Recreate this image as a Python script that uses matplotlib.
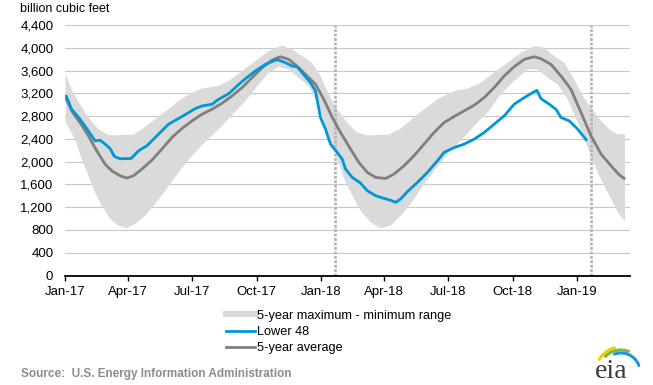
import numpy as np
import pandas as pd
import matplotlib
matplotlib.use("Agg")
import matplotlib.pyplot as plt
import matplotlib.dates as mdates
from matplotlib.lines import Line2D
from matplotlib.ticker import FuncFormatter

plt.rcParams['font.family'] = ['Liberation Sans', 'DejaVu Sans']

start_date = '2017-01-01'

# Lower 48 working gas in storage (billion cubic feet); x = days since start_date
blue_days = [1, 9.5, 21.4, 33.3, 42.8, 50, 57.1, 64.2, 70.4, 78.5, 94.2, 104.7, 116.6, 128.5, 147.5,
             166.6, 185.6, 195.1, 209.4, 218.9, 233.2, 245.1, 257, 271.2, 285.5, 299.8, 304.5, 314.1,
             323.6, 330.7, 337.9, 349.8, 356.9, 364, 371.2, 378.3, 387.9, 395, 399.7, 409.3, 421.1,
             430.7, 442.6, 454.4, 464, 471.1, 478.2, 487.8, 502.1, 516.3, 530.6, 540.1, 554.4, 568.6,
             582.9, 597.2, 611.4, 625.7, 640, 654.3, 666.2, 672.4, 678.1, 690, 699.5, 706.7, 718.5,
             730.5, 743.8]
blue_vals = [3171, 2920, 2745, 2540, 2365, 2377, 2307, 2231, 2091, 2050, 2056, 2190, 2278, 2424, 2657,
             2792, 2932, 2978, 3008, 3095, 3194, 3329, 3457, 3592, 3708, 3784, 3784, 3738,
             3679, 3668, 3562, 3387, 3241, 2774, 2570, 2307, 2161, 2044, 1869, 1723, 1624,
             1489, 1402, 1355, 1320, 1285, 1343, 1472, 1635, 1810, 2015, 2161, 2248, 2307,
             2394, 2511, 2657, 2803, 3008, 3124, 3212, 3253, 3107, 3008, 2920, 2774, 2716,
             2570, 2365]

# 5-year average
avg_days = [1, 9.5, 21.4, 33.3, 45.2, 57.1, 66.6, 78.5, 88, 97.5, 109.5, 123.8, 138, 152.3, 166.6,
            180.9, 195.1, 209.4, 223.7, 238, 252.3, 266.5, 280.8, 295.1, 306.9, 318.8, 333, 345,
            356.9, 368.7, 380.7, 392.6, 406.9, 418.7, 430.7, 442.6, 456.8, 468.7, 483, 497.2,
            511.5, 525.8, 540.1, 554.4, 568.6, 582.9, 597.2, 611.4, 625.7, 640, 654.3, 668.5,
            678.1, 692.4, 706.7, 720.9, 735.2, 749.5, 763.8, 778, 789.9, 798]
avg_vals = [3124, 2891, 2686, 2453, 2190, 1956, 1840, 1752, 1711, 1752, 1869, 2026, 2219, 2424, 2581,
            2716, 2832, 2920, 3025, 3154, 3300, 3475, 3650, 3784, 3843, 3796, 3650, 3504,
            3358, 3095, 2780, 2511, 2219, 1986, 1810, 1723, 1705, 1781, 1927, 2102,
            2307, 2511, 2686, 2792, 2891, 2990, 3124, 3300, 3504, 3668, 3796, 3843,
            3808, 3708, 3504, 3270, 2862, 2453, 2132, 1927, 1764, 1694]

# 5-year maximum
max_days = [1, 9.5, 21.4, 33.3, 47.5, 61.8, 78.5, 97.5, 109.5, 128.5, 147.5, 161.7, 180.9, 195.1,
            218.9, 233.1, 252.3, 271.2, 290.2, 309.4, 323.6, 337.9, 352.2, 364, 375.9, 387.9,
            402.2, 416.4, 430.7, 445, 461.6, 478.2, 497.2, 511.5, 530.6, 554.4, 573.4, 592.5,
            611.4, 630.6, 649.6, 668.5, 682.8, 697.1, 711.4, 725.6, 737.6, 749.5, 763.8, 778,
            787.6, 798]
max_vals = [3533, 3270, 3008, 2774, 2570, 2465, 2465, 2476, 2570, 2745, 2920, 3066, 3212, 3282,
            3329, 3416, 3592, 3767, 3942, 4041, 3971, 3854, 3738, 3504, 3183, 2920,
            2686, 2511, 2465, 2465, 2476, 2581, 2774, 2920, 3095, 3241, 3282, 3387,
            3562, 3738, 3913, 4030, 4000, 3854, 3738, 3446, 3154, 2949, 2716, 2540,
            2482, 2482]

# 5-year minimum
min_days = [1, 14.3, 23.8, 33.3, 42.8, 52.4, 64.2, 76.1, 88, 99.9, 114.2, 128.5, 142.8, 161.7,
            180.9, 199.9, 218.9, 238, 257, 276, 290.2, 304.5, 318.8, 333, 347.3, 361.6, 375.9,
            390.2, 399.7, 406.9, 421.1, 435.4, 449.7, 464, 478.2, 492.5, 506.8, 525.8, 544.9,
            563.9, 582.9, 602, 621, 640, 659.1, 673.4, 687.6, 701.9, 716.2, 730.5, 744.8, 759,
            773.3, 787.6, 798]
min_vals = [2686, 2394, 2044, 1752, 1460, 1226, 993, 876, 829, 905, 1051, 1256, 1489, 1810,
            2102, 2348, 2570, 2815, 3066, 3358, 3562, 3668, 3621, 3475, 3329, 2978, 2453,
            1986, 1635, 1460, 1139, 934, 829, 876, 1051, 1256, 1518, 1840, 2132,
            2365, 2628, 2862, 3183, 3416, 3621, 3621, 3475, 3358, 3095, 2686, 2248, 1810,
            1460, 1110, 946]

marker_dates = ['2018-01-21', '2019-01-20']
x_limits = ['2017-01-01', '2019-03-17']
tick_dates = ['2017-01-01', '2017-04-01', '2017-07-01', '2017-10-01', '2018-01-01',
              '2018-04-01', '2018-07-01', '2018-10-01', '2019-01-01']
y_ticks = [0, 400, 800, 1200, 1600, 2000, 2400, 2800, 3200, 3600, 4000, 4400]

labels = ['5-year maximum - minimum range', 'Lower 48', '5-year average']
unit_label = 'billion cubic feet'
source_text = 'Source:  U.S. Energy Information Administration'

BLUE = '#0096d7'
GRAY = '#7f7f7f'
BAND = '#dadada'


def to_dates(days):
    return pd.Timestamp(start_date) + pd.to_timedelta(np.asarray(days, dtype=float), unit='D')


W, H = 653, 385
fig = plt.figure(figsize=(W / 100, H / 100), dpi=100)
ax = fig.add_axes([65 / W, (H - 275.5) / H, (630 - 65) / W, (275.5 - 25) / H])

# band polygon
bx = np.concatenate([mdates.date2num(to_dates(max_days)), mdates.date2num(to_dates(min_days))[::-1]])
by = np.concatenate([np.asarray(max_vals), np.asarray(min_vals)[::-1]])
ax.fill(bx, by, color=BAND, lw=0, zorder=1)

ax.plot(to_dates(avg_days), avg_vals, color=GRAY, lw=2.0, zorder=3, solid_capstyle='butt')
ax.plot(to_dates(blue_days), blue_vals, color=BLUE, lw=2.0, zorder=4, solid_capstyle='butt')

for d in marker_dates:
    ax.axvline(pd.Timestamp(d), color='#b5b5b5', lw=2.0, ls=(0, (1, 0.6)), zorder=2)

ax.set_ylim(0, 4400)
ax.set_xlim(pd.Timestamp(x_limits[0]), pd.Timestamp(x_limits[1]))
ax.set_yticks(y_ticks)
ax.yaxis.set_major_formatter(FuncFormatter(lambda v, p: f'{int(v):,}'))
ax.set_xticks([pd.Timestamp(t) for t in tick_dates])
ax.xaxis.set_major_formatter(mdates.DateFormatter('%b-%y'))

ax.grid(axis='y', color='#c8c8c8', lw=0.8, zorder=0)
ax.set_axisbelow(True)
for s in ['top', 'right', 'left']:
    ax.spines[s].set_visible(False)
ax.spines['bottom'].set_color('black')
ax.spines['bottom'].set_linewidth(1.3)
ax.spines['bottom'].set_zorder(5)

ax.tick_params(axis='y', length=0, pad=8.4, labelsize=9.5, labelcolor='black')
ax.tick_params(axis='x', length=3.8, width=1.0, pad=3.5, labelsize=9.5, labelcolor='black',
               direction='out')

fig.text(20 / W, 1 - 9 / H, unit_label, fontsize=9, va='center', ha='left', color='black')

handles = [Line2D([], [], color=BAND, lw=4.5),
           Line2D([], [], color=BLUE, lw=2.0),
           Line2D([], [], color=GRAY, lw=2.0)]
fig.legend(handles, labels, loc='upper left', bbox_to_anchor=(226 / W, 1 - 309.5 / H),
           frameon=False, fontsize=9.2, handlelength=2.3, handletextpad=0.15,
           labelspacing=0.35, borderpad=0, borderaxespad=0)

fig.text(21 / W, 1 - 374 / H, source_text, fontsize=8.5, fontweight='bold', va='center',
         ha='left', color='#8c8c8c')

# EIA logo
lax = fig.add_axes([585 / W, 0, 55 / W, 45 / H])
lax.set_xlim(585, 640)
lax.set_ylim(385, 340)
lax.axis('off')
lax.text(611, 372, 'eia', fontsize=20, family=['Liberation Serif', 'DejaVu Serif'],
         color='#3a3a3a', ha='center', va='center')
cx, cy = 621, 372
for r, t1, t2, col, lw in [(25, 105, 150, '#f3cd00', 2.2), (22, 70, 135, '#79b943', 2.2),
                           (19, 20, 110, '#1a9ad6', 2.2)]:
    t = np.radians(np.linspace(t1, t2, 40))
    lax.plot(cx + r * np.cos(t), cy - r * np.sin(t), color=col, lw=lw, solid_capstyle='round')

fig.savefig('out.png', dpi=100)
